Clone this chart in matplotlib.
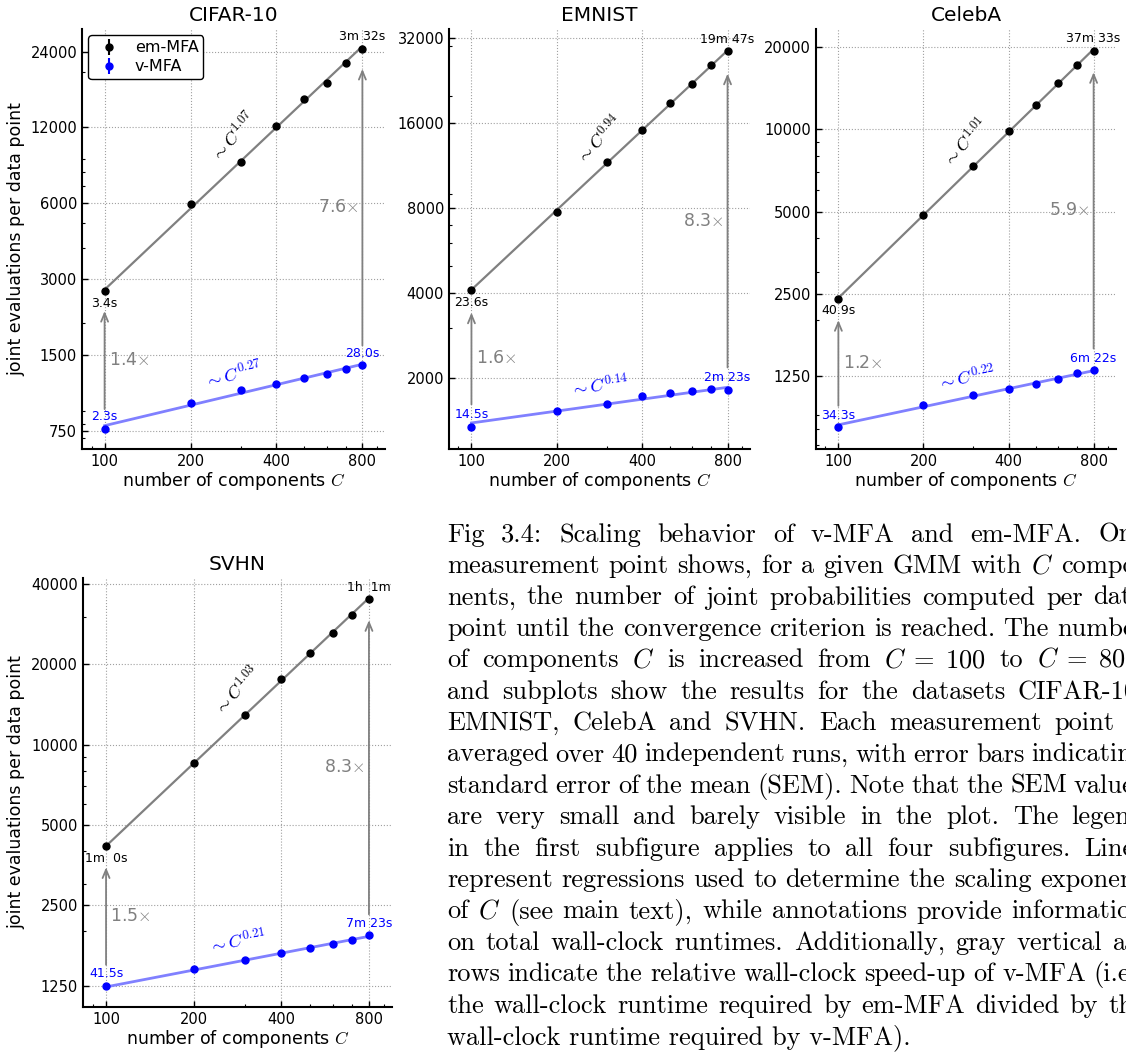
import numpy as np
import matplotlib
matplotlib.use("Agg")
import matplotlib.pyplot as plt
from matplotlib.ticker import NullFormatter

plt.rcParams['font.family'] = 'DejaVu Sans'
plt.rcParams['mathtext.fontset'] = 'cm'

# number of mixture components
C = [100, 200, 300, 400, 500, 600, 700, 800]

titles = ['CIFAR-10', 'EMNIST', 'CelebA', 'SVHN']

# joint evaluations per data point (mean over runs)
cifar_em = [2690, 5960, 8790, 12200, 15500, 18100, 21700, 24600]
cifar_v = [762, 965, 1089, 1154, 1217, 1259, 1322, 1363]
emnist_em = [4090, 7750, 11660, 15200, 18820, 22030, 25830, 28800]
emnist_v = [1343, 1530, 1610, 1724, 1761, 1795, 1820, 1815]
celeba_em = [2400, 4860, 7370, 9830, 12240, 14770, 17240, 19450]
celeba_v = [809, 977, 1065, 1120, 1169, 1215, 1279, 1311]
svhn_em = [4160, 8530, 12960, 17580, 22020, 26260, 30760, 35140]
svhn_v = [1246, 1436, 1552, 1649, 1721, 1782, 1855, 1926]

# scaling exponents of the regressions
exp_em = [1.07, 0.94, 1.01, 1.03]
exp_v = [0.27, 0.14, 0.22, 0.21]

# wall-clock runtimes at C=100 and C=800
time_em_first = ['3.4s', '23.6s', '40.9s', '1m  0s']
time_em_last = ['3m 32s', '19m 47s', '37m 33s', '1h  1m']
time_v_first = ['2.3s', '14.5s', '34.3s', '41.5s']
time_v_last = ['28.0s', '2m 23s', '6m 22s', '7m 23s']

# relative wall-clock speed-up of v-MFA
speedup_first = [1.4, 1.6, 1.2, 1.5]
speedup_last = [7.6, 8.3, 5.9, 8.3]

xticks = [100, 200, 400, 800]
yticks = [[750, 1500, 3000, 6000, 12000, 24000],
          [2000, 4000, 8000, 16000, 32000],
          [1250, 2500, 5000, 10000, 20000],
          [1250, 2500, 5000, 10000, 20000, 40000]]

caption = [
    "Fig 3.4:  Scaling behavior of v-MFA and em-MFA.  One",
    "measurement point shows, for a given GMM with $C$ compo-",
    "nents, the number of joint probabilities computed per data",
    "point until the convergence criterion is reached. The number",
    r"of components $C$ is increased from $C\;=\;100$ to $C\;=\;800$,",
    "and subplots show the results for the datasets CIFAR-10,",
    "EMNIST, CelebA and SVHN. Each measurement point is",
    "averaged over 40 independent runs, with error bars indicating",
    "standard error of the mean (SEM). Note that the SEM values",
    "are very small and barely visible in the plot.  The legend",
    "in the first subfigure applies to all four subfigures.  Lines",
    "represent regressions used to determine the scaling exponent",
    "of $C$ (see main text), while annotations provide information",
    "on total wall-clock runtimes. Additionally, gray vertical ar-",
    "rows indicate the relative wall-clock speed-up of v-MFA (i.e.,",
    "the wall-clock runtime required by em-MFA divided by the",
    "wall-clock runtime required by v-MFA).",
]

W, H = 1126, 1054
fig = plt.figure(figsize=(W / 100, H / 100), dpi=100)

# axes boxes in pixels: left, bottom(from top), width, height
boxes = [(82, 449, 303, 420), (449, 449, 301, 420),
         (816, 449, 300, 420), (83, 1007, 309, 429)]

em_all = [cifar_em, emnist_em, celeba_em, svhn_em]
v_all = [cifar_v, emnist_v, celeba_v, svhn_v]


def fit_line(c, y, k):
    # intercept of log y = k log c + b for a fixed exponent k
    c = np.asarray(c, float)
    y = np.asarray(y, float)
    b = np.mean(np.log(y) - k * np.log(c))
    return np.exp(b) * c ** k


def slope_label(ax, c, yfit, txt, color, dy, tilt=0):
    cm = np.sqrt(c[0] * c[-1])
    ym = np.exp(np.interp(np.log(cm), np.log(c), np.log(yfit)))
    p0 = ax.transData.transform((c[0], yfit[0]))
    p1 = ax.transData.transform((c[-1], yfit[-1]))
    ang = np.degrees(np.arctan2(p1[1] - p0[1], p1[0] - p0[0])) + tilt
    ax.annotate(txt, xy=(cm, ym), xytext=(0, dy), textcoords='offset points',
                rotation=ang, rotation_mode='anchor', ha='center', va='center',
                color=color, fontsize=13)


for i in range(4):
    l, b, w, h = boxes[i]
    ax = fig.add_axes([l / W, (H - b) / H, w / W, h / H])
    em = np.array(em_all[i], float)
    v = np.array(v_all[i], float)
    c = np.array(C, float)

    ax.set_xscale('log')
    ax.set_yscale('log')
    ax.set_xlim(c.min() / 1.2, c.max() * 1.2)
    lo = min(em.min(), v.min())
    hi = max(em.max(), v.max())
    ax.set_ylim(lo / 1.2, hi * 1.2)

    em_fit = fit_line(c, em, exp_em[i])
    v_fit = fit_line(c, v, exp_v[i])
    ax.plot(c, em_fit, color='#808080', lw=1.6, zorder=2)
    ax.plot(c, v_fit, color='#8080ff', lw=2.0, zorder=2)
    ax.errorbar(c, em, yerr=np.zeros_like(em), fmt='o', color='k', ms=5,
                capsize=0, label='em-MFA', zorder=3)
    ax.errorbar(c, v, yerr=np.zeros_like(v), fmt='o', color='b', ms=5,
                capsize=0, label='v-MFA', zorder=3)

    # runtime annotations
    ax.annotate(time_em_first[i], (c[0], em[0]), xytext=(0, -4),
                textcoords='offset points', ha='center', va='top', fontsize=9)
    ax.annotate(time_em_last[i], (c[-1], em[-1]), xytext=(0, 4),
                textcoords='offset points', ha='center', va='bottom', fontsize=9)
    ax.annotate(time_v_first[i], (c[0], v[0]), xytext=(0, 4),
                textcoords='offset points', ha='center', va='bottom', fontsize=9,
                color='b')
    ax.annotate(time_v_last[i], (c[-1], v[-1]), xytext=(0, 4),
                textcoords='offset points', ha='center', va='bottom', fontsize=9,
                color='b')

    # speed-up arrows
    for j, ha, fx, s in [(0, 'left', 1.035, speedup_first[i]),
                         (-1, 'right', 1 / 1.035, speedup_last[i])]:
        ax.annotate('', xy=(c[j], em[j] / 1.2), xytext=(c[j], v[j] * 1.2),
                    arrowprops=dict(arrowstyle='->,head_length=0.6,head_width=0.25',
                                    color='#808080', lw=1.3,
                                    shrinkA=0, shrinkB=0))
        ax.text(c[j] * fx, np.sqrt(em[j] * v[j]), f'{s:.1f}' + r'$\times$',
                ha=ha, va='center', color='#808080', fontsize=12.5)

    slope_label(ax, c, em_fit, r'$\sim C^{%.2f}$' % exp_em[i], 'k', 22, tilt=5)
    slope_label(ax, c, v_fit, r'$\sim C^{%.2f}$' % exp_v[i], 'b', 14)

    ax.set_xticks(xticks, labels=[str(t) for t in xticks])
    ax.set_yticks(yticks[i], labels=[str(t) for t in yticks[i]])
    ax.xaxis.set_minor_formatter(NullFormatter())
    ax.yaxis.set_minor_formatter(NullFormatter())
    ax.tick_params(which='both', direction='in', top=False, right=False,
                   labelsize=10.5)
    ax.tick_params(which='major', length=4, width=1)
    ax.tick_params(which='minor', length=2, width=0.8)
    ax.spines['top'].set_visible(False)
    ax.spines['right'].set_visible(False)
    ax.spines['left'].set_linewidth(1.5)
    ax.spines['bottom'].set_linewidth(1.5)
    ax.grid(True, which='major', linestyle=':', color='#a0a0a0', lw=0.8)
    ax.set_axisbelow(True)

    ax.set_title(titles[i], fontsize=14.5, pad=6)
    ax.set_xlabel('number of components $C$', fontsize=12.5, labelpad=1)
    if i in (0, 3):
        ax.set_ylabel('joint evaluations per data point', fontsize=12.5)
    if i == 0:
        leg = ax.legend(loc='upper left', numpoints=1, fontsize=11.5,
                        fancybox=True, framealpha=1, edgecolor='k',
                        borderpad=0.3, labelspacing=0.25, handletextpad=0.6,
                        borderaxespad=0.4)
        leg.get_frame().set_linewidth(1.0)

# caption, justified line by line
fig.canvas.draw()
renderer = fig.canvas.get_renderer()
x_left, x_right = 447, 1145
base0, step = 541.7, 31.4
cap_kw = dict(fontsize=19, family='cmr10', va='baseline', ha='left')
for k, line in enumerate(caption):
    y = (H - (base0 + k * step)) / H
    if k == len(caption) - 1:
        fig.text(x_left / W, y, line, **cap_kw)
        continue
    words = line.split(' ')
    words = [wd for wd in words if wd]
    txts = [fig.text(0, y, wd, **cap_kw) for wd in words]
    widths = [t.get_window_extent(renderer).width for t in txts]
    gap = (x_right - x_left - sum(widths)) / (len(words) - 1)
    x = x_left
    for t, wd in zip(txts, widths):
        t.set_x(x / W)
        x += wd + gap

fig.savefig('out.png', dpi=100)
